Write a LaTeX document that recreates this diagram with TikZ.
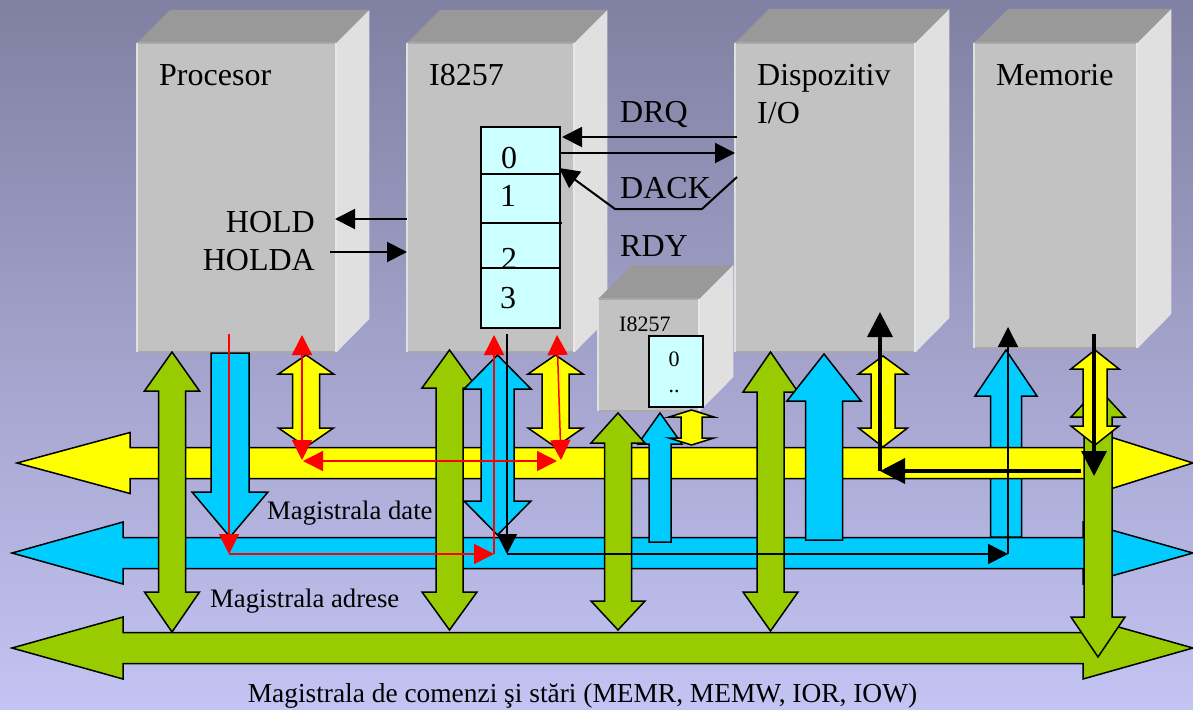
\documentclass[tikz,border=0pt]{standalone}
\usepackage{fontspec}
\setmainfont{Liberation Serif}
\usetikzlibrary{arrows.meta}

\definecolor{bgtop}{HTML}{8080A2}
\definecolor{bgbot}{HTML}{C4C4F4}
\definecolor{frontgray}{HTML}{C2C2C2}
\definecolor{topgray}{HTML}{999999}
\definecolor{sidegray}{HTML}{E0E0E0}
\definecolor{busyellow}{HTML}{FFFF00}
\definecolor{busblue}{HTML}{00CCFF}
\definecolor{busgreen}{HTML}{99CC00}
\definecolor{regcyan}{HTML}{CCFFFF}

\tikzset{
  front/.style={shape=rectangle,fill=frontgray,inner sep=0pt,anchor=north west},
  busline/.style={draw=black,line width=1.5pt,line join=miter,miter limit=20},
  yellowbus/.style={busline,fill=busyellow},
  bluebus/.style={busline,fill=busblue},
  greenbus/.style={busline,fill=busgreen},
  reg/.style={shape=rectangle,draw=black,line width=1.5pt,fill=regcyan,inner sep=0pt,anchor=north west},
  big/.style={inner sep=0pt,font=\fontsize{32}{38}\selectfont},
  med/.style={inner sep=0pt,font=\fontsize{26.7}{32}\selectfont},
  wide/.style={inner sep=0pt,font=\fontsize{27.4}{32}\selectfont},
  tiny/.style={inner sep=0pt,font=\fontsize{22}{26}\selectfont},
  redline/.style={red,line width=1.5pt},
  thinblack/.style={black,line width=1.5pt},
  blackline/.style={black,line width=2pt},
  thickblack/.style={black,line width=3.5pt},
  head/.tip={Triangle[length=20pt,width=20pt]},
  bighead/.tip={Triangle[length=25pt,width=25pt]}
}

% style, name, x, y, w, h, depth
\newcommand{\cube}[7]{
  \node[front,minimum width=#5pt,minimum height=#6pt] (#2) at (#3,#4) {};
  \fill[topgray] (#2.north west) -- ++(#7,-#7) -- ++(#5,0) -- (#2.north east) -- cycle;
  \fill[sidegray] (#2.north east) -- ++(#7,-#7) -- ++(0,#6) -- (#2.south east) -- cycle;
  \draw[#1,line width=2pt] (#2.north west) -- (#2.north east);
  \draw[#1,line width=2pt] (#2.south west) -- (#2.south east);
  \draw[white!50!frontgray,line width=2pt] (#2.north west) -- (#2.south west);
  \draw[white!60!frontgray,line width=2pt] (#2.north east) -- (#2.south east);
}
% style, x, top tip, top base, low base, low tip, head half, shaft half
\newcommand{\dblarrow}[8]{
  \path[#1] (#2,#3) -- (#2+#7,#4) -- (#2+#8,#4) -- (#2+#8,#5) -- (#2+#7,#5) -- (#2,#6)
    -- (#2-#7,#5) -- (#2-#8,#5) -- (#2-#8,#4) -- (#2-#7,#4) -- cycle;
}
% style, x, tip, base, end, head half, shaft half
\newcommand{\onearrow}[7]{
  \path[#1] (#2,#3) -- (#2+#6,#4) -- (#2+#7,#4) -- (#2+#7,#5) -- (#2-#7,#5) -- (#2-#7,#4) -- (#2-#6,#4) -- cycle;
}
% style, y, left tip, left base, right base, right tip, head half, shaft half
\newcommand{\hbus}[8]{
  \path[#1] (#3,#2) -- (#4,#2-#7) -- (#4,#2-#8) -- (#5,#2-#8) -- (#5,#2-#7) -- (#6,#2)
    -- (#5,#2+#7) -- (#5,#2+#8) -- (#4,#2+#8) -- (#4,#2+#7) -- cycle;
}

\begin{document}
\begin{tikzpicture}[x=1pt,y=-1pt]
  \useasboundingbox (0,0) rectangle (1193,709);
  \shade[top color=bgtop,bottom color=bgbot] (0,0) rectangle (1193,709);

  \cube{topgray!60!frontgray}{proc}{137}{43}{199}{309}{33}
  \cube{topgray!60!frontgray}{dma}{407}{43}{167}{309}{33}
  \cube{topgray!60!frontgray}{disp}{735}{43}{180}{309}{34}
  \cube{topgray!60!frontgray}{mem}{974}{43}{163}{305}{34}
  \cube{topgray!60!frontgray}{dmasmall}{598}{299}{101}{112}{34}

  \node[big,anchor=base west] (lproc) at (159,85) {Procesor};
  \node[big,anchor=base west] (ldma) at (429,85) {I8257};
  \node[big,anchor=base west] (ldisp) at (757,85) {Dispozitiv};
  \node[big,anchor=base west] (lio) at (757,123) {I/O};
  \node[big,anchor=base west] (lmem) at (996,85) {Memorie};
  \node[big,anchor=base west] (ldrq) at (620,122) {DRQ};
  \node[big,anchor=base west] (ldack) at (620,198) {DACK};
  \node[big,anchor=base west] (lrdy) at (620,256) {RDY};
  \node[big,anchor=base east] (lhold) at (315,232) {HOLD};
  \node[big,anchor=base east] (lholda) at (315,270) {HOLDA};

  \node[reg,minimum width=79pt,minimum height=201pt] (regs) at (480,126) {};
  \coordinate (r1w) at (480,174);
  \coordinate (r1e) at (559,174);
  \coordinate (r2w) at (482,223);
  \coordinate (r2e) at (562,223);
  \coordinate (r3w) at (480,268);
  \coordinate (r3e) at (561,268);
  \node[big,anchor=base] (d0) at (509,168) {0};
  \node[big,anchor=base] (d1) at (508,206) {1};
  \node[big,anchor=base] (d2) at (509,269) {2};
  \node[big,anchor=base] (d3) at (508,308) {3};
  \draw[thinblack] (r1w) -- (r1e);
  \draw[blackline] (r2w) -- (r2e);
  \draw[thinblack] (r3w) -- (r3e);

  \node[tiny,anchor=base west] (ldmasmall) at (619,331) {I8257};
  \node[reg,minimum width=54pt,minimum height=71pt] (regsmall) at (648,335) {};
  \node[tiny,anchor=base] (s0) at (674,366) {0};
  \node[tiny,anchor=base] (s1) at (674,392) {..};

  \onearrow{bluebus}{1006}{350}{396}{537}{31}{15.5}

  \hbus{yellowbus}{463}{17}{130}{1096}{1193}{30.5}{15.5}
  \hbus{bluebus}{553}{12}{123}{1083}{1193}{31}{15.5}
  \hbus{greenbus}{648}{12}{123}{1083}{1193}{31}{15.5}

  \dblarrow{greenbus}{172}{352}{391}{592}{632}{27.5}{13.5}
  \onearrow{bluebus}{230}{537}{492}{353}{38}{19}
  \dblarrow{yellowbus}{306}{355}{374}{428}{447}{27.5}{13.5}
  \dblarrow{greenbus}{449.5}{350}{388}{592}{630}{27.5}{13.5}
  \dblarrow{bluebus}{497.5}{355}{389}{501}{535}{33.5}{16.5}
  \dblarrow{yellowbus}{555.5}{355}{374}{428}{447}{27.5}{13.5}
  \onearrow{bluebus}{660}{413}{444}{542}{22}{11}
  \dblarrow{greenbus}{618}{413}{443}{601}{630}{27}{13.5}
  \dblarrow{yellowbus}{691.5}{410}{417}{438}{445}{22.5}{10.5}
  \dblarrow{greenbus}{770.5}{352}{392}{592}{631}{27.5}{13.5}
  \onearrow{bluebus}{824}{354}{401}{540}{37}{18.5}
  \dblarrow{yellowbus}{883}{356}{374}{428}{447}{24.5}{12}
  \dblarrow{greenbus}{1098}{388}{417}{617}{657}{27}{14}
  \dblarrow{yellowbus}{1095}{350}{369}{426}{445}{24}{12}

  \node[med,anchor=base west] (ldate) at (267,519) {Magistrala date};
  \node[med,anchor=base west] (ladr) at (210,607) {Magistrala adrese};
  \node[wide,anchor=base] (lcmd) at (582.5,702) {Magistrala de comenzi şi stări (MEMR, MEMW, IOR, IOW)};

  \coordinate (holdin) at (407,219);
  \coordinate (holdtip) at (335,219);
  \coordinate (holdaout) at (330,252);
  \coordinate (holdatip) at (407,252);
  \draw[blackline,-{head}] (holdin) -- (holdtip);
  \draw[blackline,-{head}] (holdaout) -- (holdatip);

  \coordinate (drqin) at (737,137);
  \coordinate (drqtip) at (562,137);
  \coordinate (dackout) at (559,153);
  \coordinate (dacktip) at (735,153);
  \coordinate (rdya) at (737,177);
  \coordinate (rdyb) at (702,209);
  \coordinate (rdyc) at (615,209);
  \coordinate (rdytip) at (559,168);
  \draw[blackline,-{head}] (drqin) -- (drqtip);
  \draw[blackline,-{head}] (dackout) -- (dacktip);
  \draw[blackline,-{head}] (rdya) -- (rdyb) -- (rdyc) -- (rdytip);

  \coordinate (wa) at (507,334);
  \coordinate (wb) at (507,554);
  \coordinate (wc) at (1008,554);
  \coordinate (wd) at (1008,327);
  \draw[thinblack,-{head}] (wa) -- (wb);
  \draw[thinblack,-{head}] (wb) -- (wc);
  \draw[thinblack,-{head}] (wc) -- (wd);

  \coordinate (ma) at (1094,334);
  \coordinate (mb) at (1094,476);
  \coordinate (mc) at (1081,471);
  \coordinate (md) at (880,471);
  \coordinate (me) at (880,312);
  \draw[thickblack,-{bighead}] (ma) -- (mb);
  \draw[thickblack,-{bighead}] (mc) -- (md);
  \draw[thickblack,-{bighead}] (md) -- (me);

  \coordinate (ya) at (302,335);
  \coordinate (yb) at (302,460);
  \coordinate (yc) at (303,461);
  \coordinate (yd) at (557,461);
  \coordinate (ye) at (557,335);
  \coordinate (yf) at (561,460);
  \draw[redline,{head}-{head}] (ya) -- (yb);
  \draw[redline,{head}-{head}] (yc) -- (yd);
  \draw[redline,{head}-{head}] (ye) -- (yf);

  \coordinate (aa) at (229,334);
  \coordinate (ab) at (229,554);
  \coordinate (ac) at (494,554);
  \coordinate (ad) at (494,335);
  \draw[redline,-{head}] (aa) -- (ab);
  \draw[redline,-{head}] (ab) -- (ac);
  \draw[redline,-{head}] (ac) -- (ad);
\end{tikzpicture}
\end{document}
